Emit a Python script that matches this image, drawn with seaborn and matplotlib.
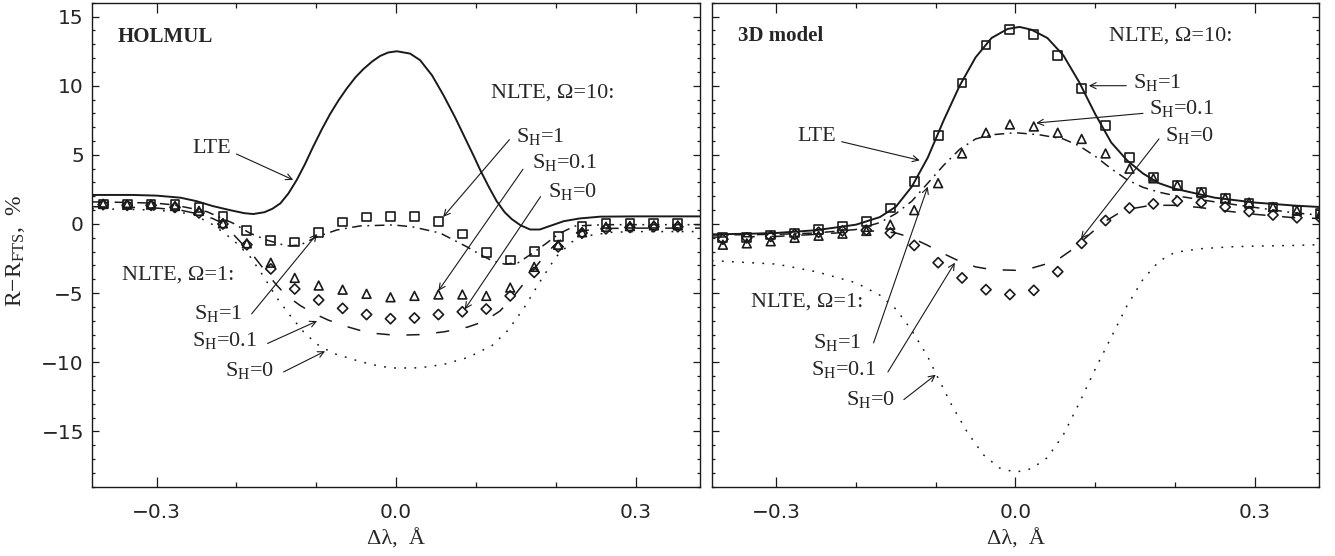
import numpy as np
import pandas as pd
import matplotlib
matplotlib.use("Agg")
import matplotlib.pyplot as plt
from matplotlib.ticker import MultipleLocator
import seaborn as sns

# ---------------- data ----------------
# marker abscissae (Angstrom)
x_marks = [-0.367, -0.337, -0.307, -0.277, -0.247, -0.217, -0.187, -0.157, -0.127,
           -0.097, -0.067, -0.037, -0.007, 0.023, 0.053, 0.083, 0.113, 0.143, 0.173,
           0.203, 0.233, 0.263, 0.293, 0.323, 0.353, 0.383]

# HOLMUL panel
hol_lte_x = [-0.381, -0.33, -0.30, -0.27, -0.25, -0.23, -0.208, -0.19, -0.179, -0.165,
             -0.155, -0.145, -0.135, -0.1245, -0.114, -0.104, -0.093, -0.0827, -0.072,
             -0.0618, -0.051, -0.041, -0.030, -0.020, -0.010, 0.001, 0.0176, 0.030,
             0.045, 0.059, 0.074, 0.0886, 0.097, 0.105, 0.116, 0.126, 0.136, 0.145,
             0.156, 0.168, 0.18, 0.19, 0.21, 0.23, 0.256, 0.30, 0.381]
hol_lte_y = [2.1, 2.1, 2.05, 1.9, 1.65, 1.3, 1.0, 0.78, 0.72, 0.85,
             1.1, 1.49, 2.2, 3.18, 4.35, 5.58, 6.85, 7.95, 8.95,
             9.8, 10.6, 11.2, 11.75, 12.15, 12.4, 12.49, 12.32, 11.85,
             10.75, 9.35, 7.7, 5.95, 4.95, 3.95, 2.7, 1.65, 0.85, 0.35,
             -0.1, -0.4, -0.4, -0.2, 0.2, 0.4, 0.53, 0.55, 0.55]

hol_sh1_x = [-0.381, -0.33, -0.30, -0.277, -0.237, -0.204, -0.183, -0.162, -0.137, -0.12,
             -0.099, -0.074, -0.045, -0.004, 0.02, 0.055, 0.089, 0.105, 0.12, 0.136,
             0.153, 0.17, 0.187, 0.204, 0.224, 0.26, 0.30, 0.381]
hol_sh1_y = [1.6, 1.55, 1.5, 1.37, 0.89, 0.05, -0.67, -1.16, -1.59, -1.52,
             -0.92, -0.43, -0.14, -0.07, -0.2, -0.65, -1.66, -2.2, -2.65, -2.9,
             -2.8, -2.15, -1.45, -0.7, -0.15, -0.05, -0.05, -0.05]

hol_sh01_x = [-0.381, -0.33, -0.30, -0.27, -0.25, -0.23, -0.217, -0.195, -0.18, -0.164,
              -0.15, -0.137, -0.12, -0.104, -0.085, -0.066, -0.045, -0.029, 0.0, 0.03,
              0.06, 0.09, 0.11, 0.13, 0.145, 0.16, 0.175, 0.19, 0.205, 0.22, 0.24,
              0.27, 0.30, 0.381]
hol_sh01_y = [1.25, 1.2, 1.15, 1.0, 0.75, 0.4, 0.05, -1.3, -2.2, -3.4,
              -4.4, -5.2, -5.9, -6.45, -6.95, -7.35, -7.7, -7.9, -8.05, -8.0,
              -7.8, -7.45, -7.05, -6.3, -5.4, -4.3, -3.1, -2.0, -1.2, -0.7, -0.45,
              -0.32, -0.3, -0.3]

hol_sh0_x = [-0.381, -0.33, -0.30, -0.28, -0.254, -0.229, -0.204, -0.183, -0.166, -0.15,
             -0.133, -0.116, -0.099, -0.079, -0.045, -0.02, 0.0, 0.03, 0.06, 0.09, 0.12,
             0.14, 0.16, 0.18, 0.20, 0.22, 0.24, 0.27, 0.30, 0.381]
hol_sh0_y = [1.1, 1.05, 1.0, 0.9, 0.7, -0.07, -1.16, -2.36, -3.8, -5.3,
             -6.6, -7.8, -8.7, -9.35, -9.95, -10.3, -10.42, -10.4, -10.15, -9.65, -8.8,
             -7.7, -6.1, -4.2, -2.4, -1.3, -0.85, -0.6, -0.55, -0.55]

hol_sq = [1.45, 1.45, 1.45, 1.4, 1.2, 0.55, -0.45, -1.2, -1.3, -0.6, 0.15, 0.5, 0.55,
          0.53, 0.17, -0.72, -2.05, -2.6, -2.0, -0.9, -0.2, 0.05, 0.05, 0.05, 0.05]
hol_tri = [1.45, 1.4, 1.4, 1.3, 0.95, 0.05, -1.4, -2.8, -3.9, -4.45, -4.75, -5.05, -5.3,
           -5.2, -5.1, -5.1, -5.2, -4.6, -3.1, -1.5, -0.6, -0.2, -0.15, -0.1, -0.1]
hol_dia = [1.4, 1.35, 1.35, 1.2, 0.8, 0.0, -1.5, -3.25, -4.7, -5.5, -6.1, -6.55, -6.85,
           -6.8, -6.55, -6.35, -6.15, -5.2, -3.5, -1.65, -0.65, -0.35, -0.25, -0.2, -0.2]

# 3D model panel
m3d_lte_x = [-0.381, -0.33, -0.30, -0.25, -0.20, -0.17, -0.15, -0.13, -0.11, -0.09, -0.07,
             -0.05, -0.03, -0.01, 0.005, 0.02, 0.04, 0.06, 0.08, 0.10, 0.12, 0.14, 0.16,
             0.18, 0.20, 0.25, 0.30, 0.35, 0.381]
m3d_lte_y = [-0.75, -0.7, -0.65, -0.45, -0.05, 0.5, 1.25, 2.7, 4.8, 7.5, 10.0,
             12.05, 13.45, 14.1, 14.25, 14.05, 13.45, 12.2, 10.25, 7.95, 5.9, 4.6, 3.65,
             2.95, 2.55, 1.9, 1.55, 1.33, 1.23]

m3d_sh1_x = [-0.381, -0.30, -0.25, -0.20, -0.17, -0.15, -0.13, -0.11, -0.09, -0.07, -0.05,
             -0.03, 0.0, 0.03, 0.06, 0.08, 0.10, 0.12, 0.14, 0.16, 0.18, 0.20, 0.25,
             0.30, 0.35, 0.381]
m3d_sh1_y = [-0.8, -0.75, -0.65, -0.4, 0.1, 0.75, 1.65, 2.95, 4.25, 5.4, 6.15,
             6.45, 6.6, 6.45, 6.15, 5.65, 4.9, 4.0, 3.2, 2.65, 2.3, 2.05, 1.6,
             1.2, 0.8, 0.65]

m3d_sh01_x = [-0.381, -0.30, -0.25, -0.20, -0.17, -0.15, -0.13, -0.11, -0.09, -0.07,
              -0.05, -0.03, 0.0, 0.02, 0.05, 0.07, 0.09, 0.11, 0.13, 0.15, 0.17, 0.20,
              0.23, 0.27, 0.30, 0.35, 0.381]
m3d_sh01_y = [-0.95, -0.9, -0.75, -0.55, -0.5, -0.65, -1.0, -1.55, -2.15, -2.7,
              -3.1, -3.3, -3.35, -3.2, -2.7, -1.9, -0.9, 0.1, 0.8, 1.15, 1.35, 1.35,
              1.2, 0.9, 0.7, 0.45, 0.4]

m3d_sh0_x = [-0.381, -0.30, -0.25, -0.20, -0.17, -0.15, -0.13, -0.11, -0.10, -0.08, -0.06,
             -0.04, -0.02, 0.0, 0.02, 0.04, 0.06, 0.08, 0.10, 0.12, 0.14, 0.16, 0.18,
             0.20, 0.23, 0.27, 0.30, 0.35, 0.381]
m3d_sh0_y = [-2.65, -2.9, -3.45, -4.25, -5.15, -6.15, -7.7, -9.6, -10.8, -13.1, -15.1,
             -16.7, -17.65, -17.95, -17.7, -16.9, -15.25, -12.95, -10.5, -8.2, -5.9, -4.0, -2.7,
             -2.05, -1.8, -1.65, -1.6, -1.55, -1.5]

m3d_sq = [-1.0, -0.95, -0.8, -0.65, -0.4, -0.15, 0.2, 1.15, 3.1, 6.4, 10.2, 12.95, 14.05,
          13.7, 12.2, 9.8, 7.1, 4.8, 3.4, 2.8, 2.3, 1.87, 1.5, 1.23, 0.97, 0.8]
m3d_tri = [-1.5, -1.4, -1.25, -1.0, -0.85, -0.7, -0.5, -0.05, 1.0, 2.95, 5.1, 6.6, 7.2,
           7.05, 6.6, 6.15, 5.1, 4.0, 3.3, 2.8, 2.3, 1.87, 1.55, 1.23, 0.97, 0.8]
m3d_dia = [-1.1, -1.0, -0.9, -0.75, -0.6, -0.5, -0.45, -0.65, -1.55, -2.8, -3.9, -4.75, -5.1,
           -4.8, -3.45, -1.4, 0.25, 1.15, 1.45, 1.65, 1.55, 1.23, 0.9, 0.65, 0.45, 0.4]

xtick_vals = [-0.3, 0.0, 0.3]
xtick_labels = ["\u22120.3", "0.0", "0.3"]
ytick_vals = [-15, -10, -5, 0, 5, 10, 15]
ytick_labels = ["\u221215", "\u221210", "\u22125", "0", "5", "10", "15"]

# ---------------- style ----------------
sns.set_theme(style="ticks")
plt.rcParams["font.family"] = ["Liberation Serif", "DejaVu Serif"]
plt.rcParams["mathtext.fontset"] = "custom"
plt.rcParams["mathtext.rm"] = "Liberation Serif"
plt.rcParams["mathtext.it"] = "Liberation Serif:italic"
plt.rcParams["lines.scale_dashes"] = False
plt.rcParams["axes.linewidth"] = 1.0

fig = plt.figure(figsize=(13.35, 5.56), dpi=100)
ax1 = fig.add_axes([0.0691, 0.1246, 0.4552, 0.8705])
ax2 = fig.add_axes([0.5333, 0.1246, 0.4547, 0.8705])

LS_SOLID = "-"
LS_DASHDOT = (0, (7, 4, 1.3, 4))
LS_LONGDASH = (0, (9.5, 12))
LS_DOT = (0, (1.3, 6.0))


def draw_line(ax, xs, ys, ls, lw=1.1):
    sns.lineplot(x=xs, y=ys, ax=ax, color="k", linestyle=ls, linewidth=lw,
                 estimator=None, sort=False, legend=False)


def draw_marks(ax, xs, ys, marker, size):
    sns.scatterplot(x=xs, y=ys, ax=ax, marker=marker, s=size, color="k",
                    facecolor="none", edgecolor="k", linewidth=1.2, legend=False,
                    zorder=3)


def arrow(ax, head, tail):
    ax.annotate("", xy=head, xytext=tail,
                arrowprops=dict(arrowstyle="->", lw=0.8, color="k",
                                shrinkA=0, shrinkB=0, mutation_scale=11))


TFS = 16

# ---- HOLMUL ----
draw_line(ax1, hol_lte_x, hol_lte_y, LS_SOLID, 1.4)
draw_line(ax1, hol_sh1_x, hol_sh1_y, LS_DASHDOT)
draw_line(ax1, hol_sh01_x, hol_sh01_y, LS_LONGDASH)
draw_line(ax1, hol_sh0_x, hol_sh0_y, LS_DOT)
draw_marks(ax1, x_marks[:len(hol_sq)], hol_sq, "s", 40)
draw_marks(ax1, x_marks[:len(hol_tri)], hol_tri, "^", 40)
draw_marks(ax1, x_marks[:len(hol_dia)], hol_dia, "D", 27)

ax1.text(-0.349, 13.55, "HOLMUL", fontsize=15, fontweight="bold", va="center", ha="left")
ax1.text(-0.255, 5.45, "LTE", fontsize=TFS, va="center", ha="left")
arrow(ax1, (-0.129, 3.19), (-0.20, 5.06))
ax1.text(0.119, 9.46, "NLTE, \u03a9=10:", fontsize=TFS, va="center", ha="left")
ax1.text(0.150, 6.35, "S$_{\\rm H}$=1", fontsize=TFS, va="center", ha="left")
arrow(ax1, (0.059, 0.51), (0.142, 6.1))
ax1.text(0.170, 4.42, "S$_{\\rm H}$=0.1", fontsize=TFS, va="center", ha="left")
arrow(ax1, (0.053, -4.83), (0.159, 3.96))
ax1.text(0.190, 2.36, "S$_{\\rm H}$=0", fontsize=TFS, va="center", ha="left")
arrow(ax1, (0.086, -6.17), (0.181, 1.98))
ax1.text(-0.343, -3.68, "NLTE, \u03a9=1:", fontsize=TFS, va="center", ha="left")
ax1.text(-0.2535, -6.5, "S$_{\\rm H}$=1", fontsize=TFS, va="center", ha="left")
arrow(ax1, (-0.099, -0.72), (-0.181, -6.5))
ax1.text(-0.256, -8.43, "S$_{\\rm H}$=0.1", fontsize=TFS, va="center", ha="left")
arrow(ax1, (-0.099, -7.02), (-0.161, -8.64))
ax1.text(-0.214, -10.6, "S$_{\\rm H}$=0", fontsize=TFS, va="center", ha="left")
arrow(ax1, (-0.089, -9.2), (-0.141, -10.7))

# ---- 3D model ----
draw_line(ax2, m3d_lte_x, m3d_lte_y, LS_SOLID, 1.4)
draw_line(ax2, m3d_sh1_x, m3d_sh1_y, LS_DASHDOT)
draw_line(ax2, m3d_sh01_x, m3d_sh01_y, LS_LONGDASH)
draw_line(ax2, m3d_sh0_x, m3d_sh0_y, LS_DOT)
draw_marks(ax2, x_marks[:len(m3d_sq)], m3d_sq, "s", 40)
draw_marks(ax2, x_marks[:len(m3d_tri)], m3d_tri, "^", 40)
draw_marks(ax2, x_marks[:len(m3d_dia)], m3d_dia, "D", 27)

ax2.text(-0.348, 13.6, "3D model", fontsize=15, fontweight="bold", va="center", ha="left")
ax2.text(0.117, 13.6, "NLTE, \u03a9=10:", fontsize=TFS, va="center", ha="left")
ax2.text(0.147, 10.25, "S$_{\\rm H}$=1", fontsize=TFS, va="center", ha="left")
arrow(ax2, (0.092, 10.0), (0.139, 10.0))
ax2.text(0.167, 8.33, "S$_{\\rm H}$=0.1", fontsize=TFS, va="center", ha="left")
arrow(ax2, (0.026, 7.3), (0.160, 8.0))
ax2.text(0.188, 6.41, "S$_{\\rm H}$=0", fontsize=TFS, va="center", ha="left")
arrow(ax2, (0.082, -1.08), (0.180, 6.15))
ax2.text(-0.274, 6.33, "LTE", fontsize=TFS, va="center", ha="left")
arrow(ax2, (-0.12, 4.6), (-0.218, 5.95))
ax2.text(-0.332, -5.64, "NLTE, \u03a9=1:", fontsize=TFS, va="center", ha="left")
ax2.text(-0.254, -8.6, "S$_{\\rm H}$=1", fontsize=TFS, va="center", ha="left")
arrow(ax2, (-0.11, 2.7), (-0.178, -8.6))
ax2.text(-0.256, -10.5, "S$_{\\rm H}$=0.1", fontsize=TFS, va="center", ha="left")
arrow(ax2, (-0.076, -2.8), (-0.160, -10.7))
ax2.text(-0.213, -12.7, "S$_{\\rm H}$=0", fontsize=TFS, va="center", ha="left")
arrow(ax2, (-0.10, -10.9), (-0.140, -12.7))

# ---- axes ----
for ax in (ax1, ax2):
    ax.set_xlim(-0.3807, 0.3807)
    ax.set_ylim(-19, 16)
    ax.set_xticks(xtick_vals)
    ax.set_xticklabels(xtick_labels, fontfamily="DejaVu Sans", fontsize=14.5)
    ax.set_yticks(ytick_vals)
    ax.xaxis.set_minor_locator(MultipleLocator(0.1))
    ax.yaxis.set_minor_locator(MultipleLocator(1))
    ax.tick_params(which="both", direction="in", top=True, right=True,
                   width=0.9, color="k")
    ax.tick_params(axis="x", which="major", length=7, pad=12)
    ax.tick_params(axis="x", which="minor", length=3.5)
    ax.tick_params(axis="y", which="major", length=5, pad=6)
    ax.tick_params(axis="y", which="minor", length=2.5)
    ax.set_xlabel("\u0394\u03bb,  \u00c5", fontsize=16)
    ax.xaxis.set_label_coords(0.5, -0.088)
    for sp in ax.spines.values():
        sp.set_color("k")
        sp.set_linewidth(1.0)

ax1.set_yticklabels(ytick_labels, fontfamily="DejaVu Sans", fontsize=14.5)
ax2.set_yticklabels([])
ax1.set_ylabel("R$-$R$_{\\rm FTS}$,  %", fontsize=17)
ax1.yaxis.set_label_coords(-0.108, 0.487)
ax2.set_ylabel("")

fig.savefig("out.png", dpi=100)
